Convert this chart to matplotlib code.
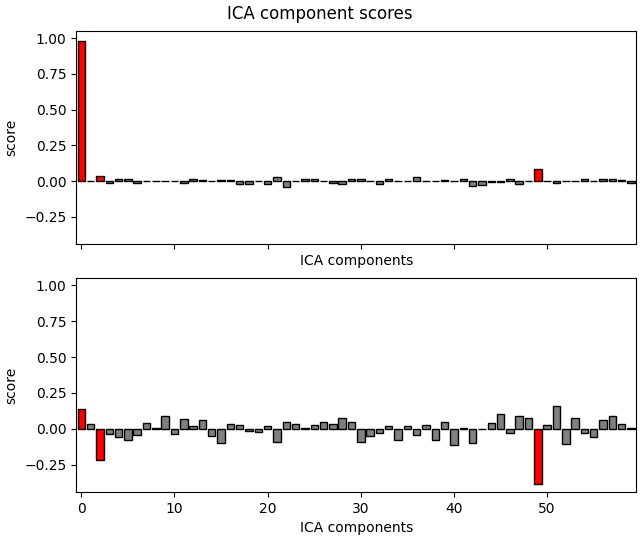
import matplotlib
matplotlib.use("Agg")
import matplotlib.pyplot as plt
import numpy as np

components = list(range(60))
scores_top = [0.98, 0.002, 0.035, -0.01, 0.012, 0.012, -0.016, 0.001, -0.002, 0.004,
              0.002, -0.016, 0.012, 0.005, 0.001, 0.01, 0.01, -0.023, -0.023, 0.004,
              -0.023, 0.026, -0.044, 0.004, 0.012, 0.012, 0.004, -0.016, -0.023, 0.018,
              0.018, 0.004, -0.023, 0.018, 0.004, 0.004, 0.026, 0.004, -0.001, 0.01,
              0.004, 0.012, -0.037, -0.03, -0.005, -0.008, 0.018, -0.023, 0.002, 0.084,
              0.002, -0.016, 0.004, 0.004, 0.018, -0.002, 0.016, 0.016, 0.01, -0.01]
scores_bottom = [0.14, 0.033, -0.22, -0.033, -0.058, -0.079, -0.044, 0.04, 0.003, 0.09,
                 -0.037, 0.068, 0.021, 0.06, -0.05, -0.1, 0.033, 0.028, -0.016, -0.023,
                 0.016, -0.09, 0.047, 0.033, 0.005, 0.028, 0.047, 0.033, 0.075, 0.045,
                 -0.09, -0.05, -0.026, 0.016, -0.079, 0.02, -0.044, 0.028, -0.079, 0.047,
                 -0.114, 0.004, -0.096, -0.003, 0.04, 0.10, -0.026, 0.089, 0.072, -0.387,
                 0.026, 0.158, -0.107, 0.072, -0.03, -0.056, 0.058, 0.089, 0.033, 0.008]
excluded_top = [0, 2, 49]
excluded_bottom = [0, 2, 49]

fig = plt.figure(figsize=(6.4, 5.4), dpi=100)
ax1 = fig.add_axes([0.119, 0.548, 0.875, 0.3946])
ax2 = fig.add_axes([0.119, 0.089, 0.875, 0.396], sharex=ax1, sharey=ax1)

for ax, sc, exc in [(ax1, scores_top, excluded_top), (ax2, scores_bottom, excluded_bottom)]:
    colors = ['red' if i in exc else 'gray' for i in components]
    ax.bar(components, sc, color=colors, edgecolor='k', linewidth=1)
    ax.set_xlabel('ICA components')
    ax.set_ylabel('score')

ax1.set_xlim(-0.55, 59.55)
ax1.set_ylim(-0.44, 1.05)
ax1.set_yticks([-0.25, 0.0, 0.25, 0.5, 0.75, 1.0])
ax1.set_xticks([0, 10, 20, 30, 40, 50])
plt.setp(ax1.get_xticklabels(), visible=False)
fig.suptitle('ICA component scores', y=0.99)

fig.savefig('out.png', dpi=100)
